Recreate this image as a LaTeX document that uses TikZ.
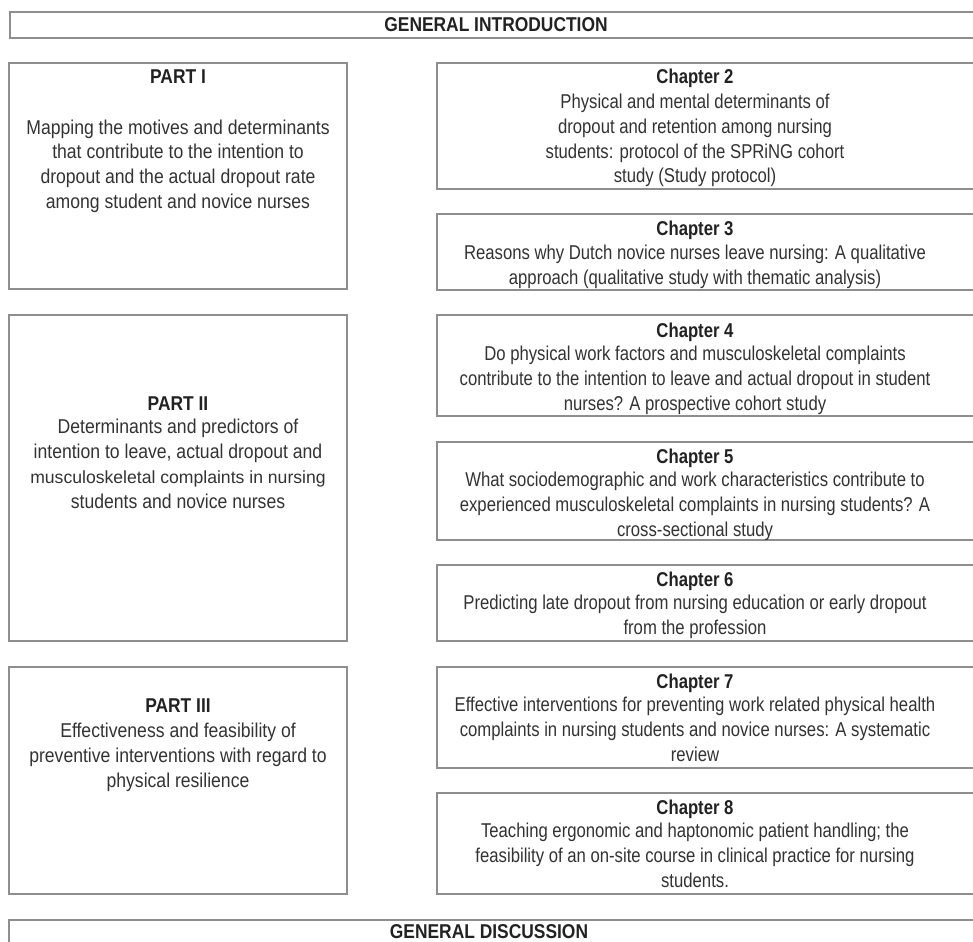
\documentclass[tikz,border=0pt]{standalone}
\usepackage{fontspec}
\usetikzlibrary{fit}
% part column and outer bars
\newfontfamily\bodyfont{Liberation Sans}[FakeStretch=0.88]
\newfontfamily\headfont{Liberation Sans}[FakeStretch=0.87]
% chapter column is set a little narrower
\newfontfamily\chbodyfont{Liberation Sans}[FakeStretch=0.835]
\newfontfamily\chheadfont{Liberation Sans}[FakeStretch=0.835]
\newfontfamily\plainfont{Liberation Sans}
\definecolor{framegray}{HTML}{8E8E8E}
\definecolor{inkbody}{HTML}{333333}
\definecolor{inkhead}{HTML}{222222}
\newcommand{\mskline}{{\plainfont\fontsize{17.6}{24.8}\selectfont musculoskeletal complaints in nursing}}
\tikzset{
  frame/.style={draw=framegray, line width=1.8pt, inner sep=0pt, fill=white},
  % multi-line nodes: the base anchor sits on the last line
  headtext/.style={anchor=base, inner sep=0pt, text=inkhead,
    font={\headfont\bfseries\fontsize{20}{24.8}\selectfont}},
  bodytext/.style={anchor=base, inner sep=0pt, align=center, text=inkbody,
    font={\bodyfont\fontsize{20}{24.8}\selectfont}},
  chhead/.style={headtext, font={\chheadfont\bfseries\fontsize{20}{24.8}\selectfont}},
  chbody/.style={bodytext, font={\chbodyfont\fontsize{20}{24.8}\selectfont}}
}
\begin{document}
\begin{tikzpicture}[x=1pt,y=-1pt]
\useasboundingbox (0,0) rectangle (973,941);
\clip (0,0) rectangle (973,941);
\fill[white] (0,0) rectangle (973,941);

% outer bars
\node[frame, fit={(10,12) (990,38)}] (intro) {};
\node[frame, fit={(9,920) (990,970)}] (disc) {};
\node[headtext] (introtxt) at (496,32) {GENERAL INTRODUCTION};
\node[headtext] (disctxt) at (489,938) {GENERAL DISCUSSION};

% parts (left column)
\node[frame, fit={(9,63) (347,289)}] (part1) {};
\node[frame, fit={(9,315) (347,641)}] (part2) {};
\node[frame, fit={(9,667) (347,894)}] (part3) {};

\node[headtext] (p1head) at (178,84) {PART I};
\node[bodytext] (p1body) at (178,208.5) {Mapping the motives and determinants\\
  that contribute to the intention to\\
  dropout and the actual dropout rate\\
  among student and novice nurses};

\node[headtext] (p2head) at (178,410) {PART II};
\node[bodytext] (p2body) at (178,508) {Determinants and predictors of\\
  intention to leave, actual dropout and\\
  \mskline\\
  students and novice nurses};

\node[headtext] (p3head) at (178,712) {PART III};
\node[bodytext] (p3body) at (178,787) {Effectiveness and feasibility of\\
  preventive interventions with regard to\\
  physical resilience};

% chapters (right column)
\node[frame, fit={(437,63) (990,189)}] (ch2) {};
\node[frame, fit={(437,214) (990,290)}] (ch3) {};
\node[frame, fit={(437,315) (990,416)}] (ch4) {};
\node[frame, fit={(437,442) (990,540)}] (ch5) {};
\node[frame, fit={(437,565) (990,641)}] (ch6) {};
\node[frame, fit={(437,667) (990,768)}] (ch7) {};
\node[frame, fit={(437,793) (990,894)}] (ch8) {};

\node[chhead] (c2head) at (695,84) {Chapter 2};
\node[chbody] (c2body) at (695,183) {Physical and mental determinants of\\
  dropout and retention among nursing\\
  students: protocol of the SPRiNG cohort\\
  study (Study protocol)};

\node[chhead] (c3head) at (695,235) {Chapter 3};
\node[chbody] (c3body) at (695,284) {Reasons why Dutch novice nurses leave nursing: A qualitative\\
  approach (qualitative study with thematic analysis)};

\node[chhead] (c4head) at (695,337) {Chapter 4};
\node[chbody] (c4body) at (695,410.5) {Do physical work factors and musculoskeletal complaints\\
  contribute to the intention to leave and actual dropout in student\\
  nurses? A prospective cohort study};

\node[chhead] (c5head) at (695,463) {Chapter 5};
\node[chbody] (c5body) at (695,536) {What sociodemographic and work characteristics contribute to\\
  experienced musculoskeletal complaints in nursing students? A\\
  cross-sectional study};

\node[chhead] (c6head) at (695,586) {Chapter 6};
\node[chbody] (c6body) at (695,634) {Predicting late dropout from nursing education or early dropout\\
  from the profession};

\node[chhead] (c7head) at (695,688) {Chapter 7};
\node[chbody] (c7body) at (695,761) {Effective interventions for preventing work related physical health\\
  complaints in nursing students and novice nurses: A systematic\\
  review};

\node[chhead] (c8head) at (695,814) {Chapter 8};
\node[chbody] (c8body) at (695,887) {Teaching ergonomic and haptonomic patient handling; the\\
  feasibility of an on-site course in clinical practice for nursing\\
  students.};
\end{tikzpicture}
\end{document}
